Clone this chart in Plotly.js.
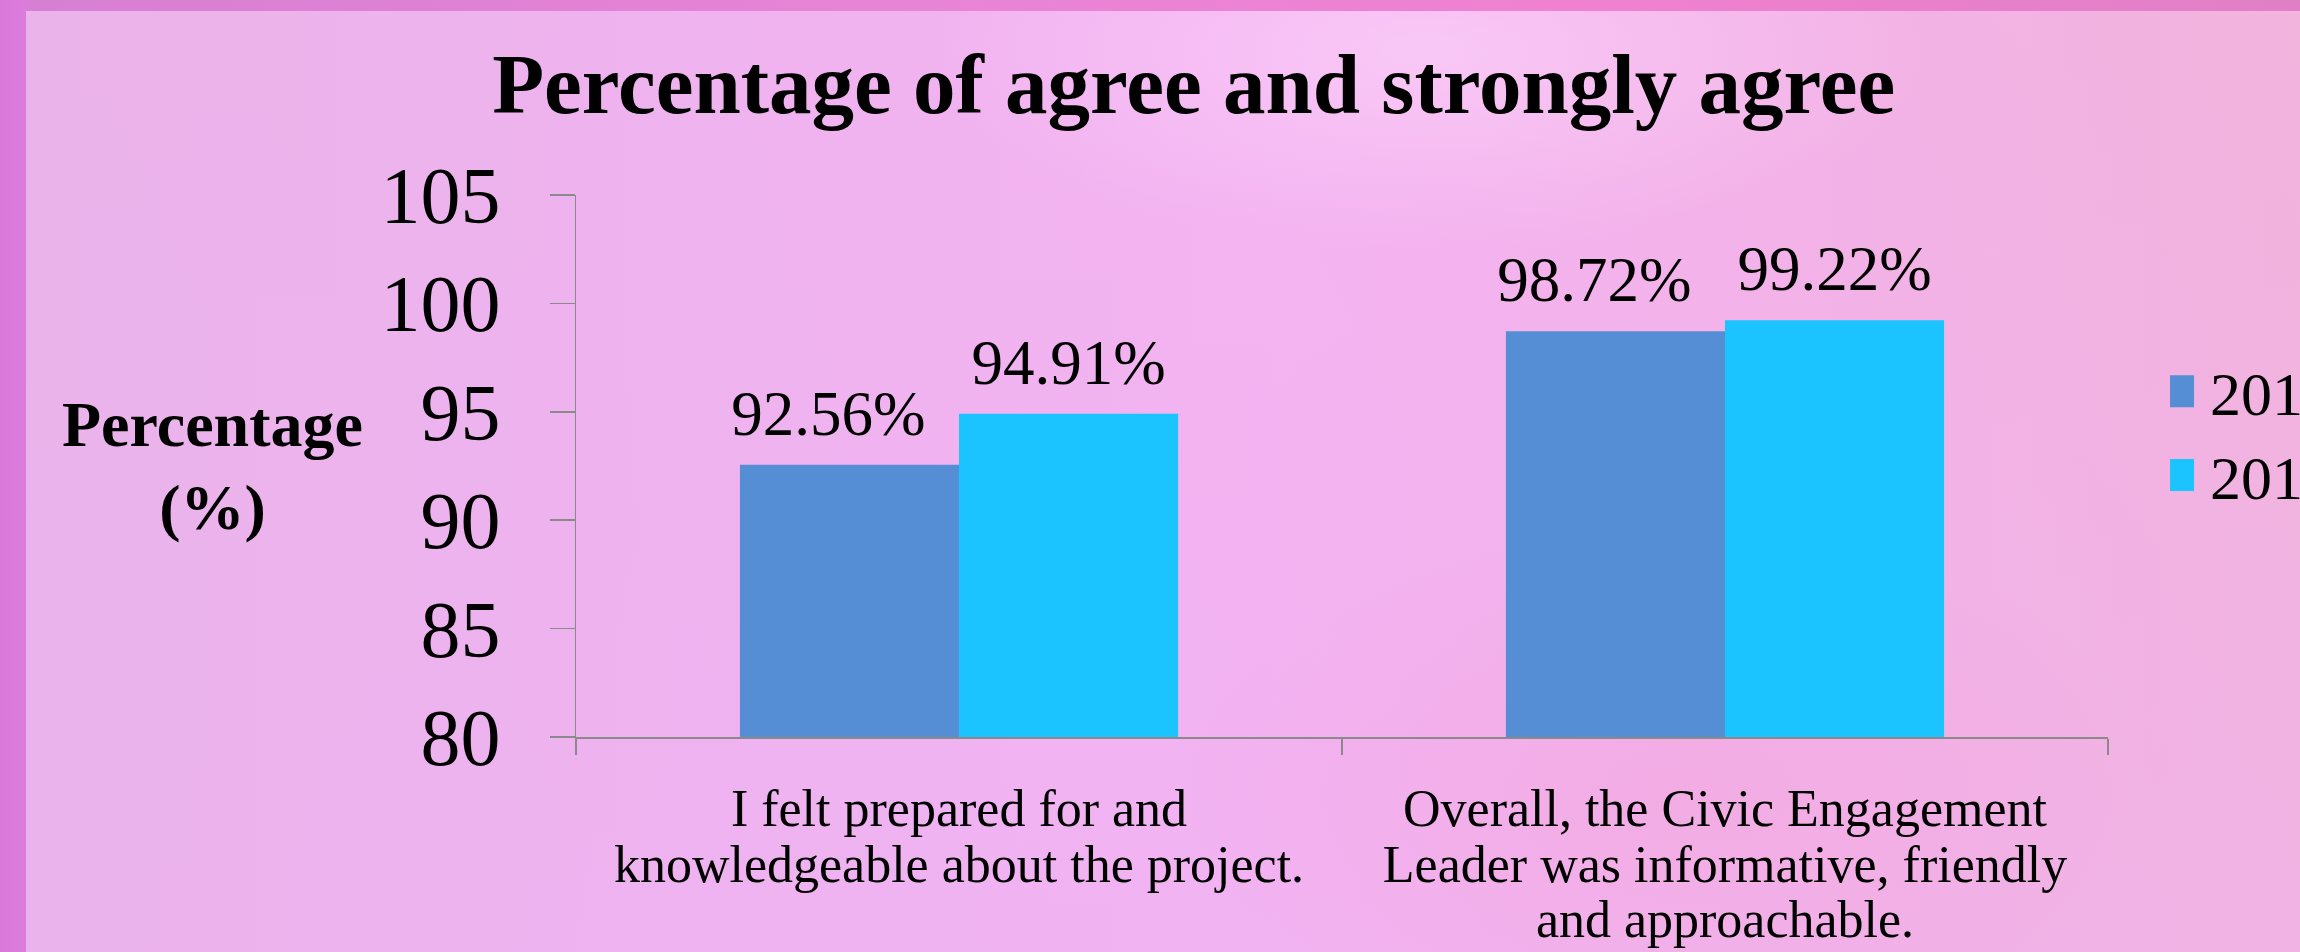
<!DOCTYPE html>
<html>
<head>
<meta charset="utf-8">
<script src="https://cdn.plot.ly/plotly-3.0.1.min.js"></script>
<style>
  html, body { margin: 0; padding: 0; width: 2300px; height: 952px; overflow: hidden; }
  body {
    background:
      linear-gradient(to right, #d978d8 0px, #dc7cdc 26px, transparent 26px),
      linear-gradient(to right, #d67fd3 0%, #e884d6 40%, #f081d0 70%, #e07fc6 100%);
  }
  #panel {
    position: absolute; left: 26px; top: 11px; width: 2274px; height: 941px;
    background:
      radial-gradient(ellipse 500px 200px at 1400px 40px, rgba(255,225,255,0.45), rgba(255,225,255,0) 100%),
      radial-gradient(ellipse 500px 260px at 1650px 780px, rgba(245,160,215,0.35), rgba(245,160,215,0) 100%),
      linear-gradient(to bottom, rgba(240,175,225,0.0) 0%, rgba(236,178,244,0.25) 100%),
      linear-gradient(to right, #eab3e9 0%, #efb3ef 30%, #f4b3f1 55%, #f3b2e6 80%, #f2b3dd 100%);
  }
  #chart { position: absolute; left: 0; top: 0; width: 2300px; height: 952px; }
</style>
</head>
<body>
<div id="panel"></div>
<div id="chart"></div>
<script>
// ---- data ----
var categories = [
  "I felt prepared for and<br>knowledgeable about the project.",
  "Overall, the Civic Engagement<br>Leader was informative, friendly<br>and approachable."
];
var seriesNames = ["2012", "2013"];
var series1 = [92.56, 98.72];
var series2 = [94.91, 99.22];
var yTickVals = [80, 85, 90, 95, 100, 105];
var chartTitle = "Percentage of agree and strongly agree";
var yTitle = "Percentage<br>(%)";

var colors = ["#558ed5", "#1bc4ff"];
var serif = "Liberation Serif, Times New Roman, serif";

function barTrace(name, values, color) {
  return {
    type: "bar",
    name: name,
    x: categories,
    y: values,
    marker: { color: color },
    text: values.map(function (v) { return v.toFixed(2) + "%"; }),
    textposition: "outside",
    textfont: { family: serif, size: 63, color: "#000" },
    cliponaxis: false,
    hoverinfo: "skip"
  };
}

var data = [
  barTrace(seriesNames[0], series1, colors[0]),
  barTrace(seriesNames[1], series2, colors[1])
];

var layout = {
  width: 2300,
  height: 952,
  paper_bgcolor: "rgba(0,0,0,0)",
  plot_bgcolor: "rgba(0,0,0,0)",
  margin: { l: 576, r: 192, t: 195, b: 215, autoexpand: false },
  barmode: "group",
  bargap: 0.428,
  bargroupgap: 0,
  font: { family: serif, color: "#000" },
  title: {
    text: "<b>" + chartTitle + "</b>",
    font: { family: serif, size: 85, color: "#000" },
    x: 0.519, xanchor: "center",
    y: 0.944, yanchor: "top"
  },
  xaxis: {
    type: "category",
    showline: true,
    linecolor: "#8a8a8a",
    linewidth: 2,
    ticks: "outside",
    tickson: "boundaries",
    ticklen: 16,
    tickcolor: "#8a8a8a",
    tickwidth: 1.5,
    tickfont: { family: serif, size: 52, color: "#000" },
    ticklabelstandoff: 25,
    showgrid: false,
    zeroline: false,
    automargin: false
  },
  yaxis: {
    range: [80, 105],
    tickvals: yTickVals,
    showline: true,
    linecolor: "#8a8a8a",
    linewidth: 1.5,
    ticks: "outside",
    ticklen: 25,
    tickcolor: "#8a8a8a",
    tickwidth: 1.5,
    tickfont: { family: serif, size: 80, color: "#000" },
    ticklabelstandoff: 33,
    showgrid: false,
    zeroline: false,
    automargin: false
  },
  legend: {
    x: 1.0405, xanchor: "left",
    y: 0.56, yanchor: "middle",
    bgcolor: "rgba(0,0,0,0)",
    font: { family: serif, size: 62, color: "#000" },
    itemwidth: 30
  },
  annotations: [{
    text: "<b>" + yTitle + "</b>",
    xref: "paper", yref: "paper",
    x: -0.237, y: 0.5,
    xanchor: "center", yanchor: "middle",
    align: "center",
    showarrow: false,
    font: { family: serif, size: 64, color: "#000" }
  }]
};

Plotly.newPlot("chart", data, layout, { displayModeBar: false, staticPlot: true }).then(function (gd) {
  // tighter line spacing for the category labels (as in the original slide)
  gd.querySelectorAll(".xtick text tspan.line").forEach(function (t) {
    var dy = parseFloat(t.getAttribute("dy")) || 0;
    t.setAttribute("dy", (dy / 1.3 * 1.06) + "em");
  });
  // raise the value labels a little above the bars
  gd.querySelectorAll(".barlayer .trace").forEach(function (tr, i) {
    var dx = i === 0 ? -21 : 0;
    tr.querySelectorAll("text.bartext").forEach(function (el) {
      el.setAttribute("transform", "translate(" + dx + ",-13) " + (el.getAttribute("transform") || ""));
    });
  });
  // larger legend swatches
  gd.querySelectorAll(".legend .legendpoints path").forEach(function (p) {
    p.setAttribute("d", "M4,16H-28V-16H4Z");
  });
});
</script>
</body>
</html>
